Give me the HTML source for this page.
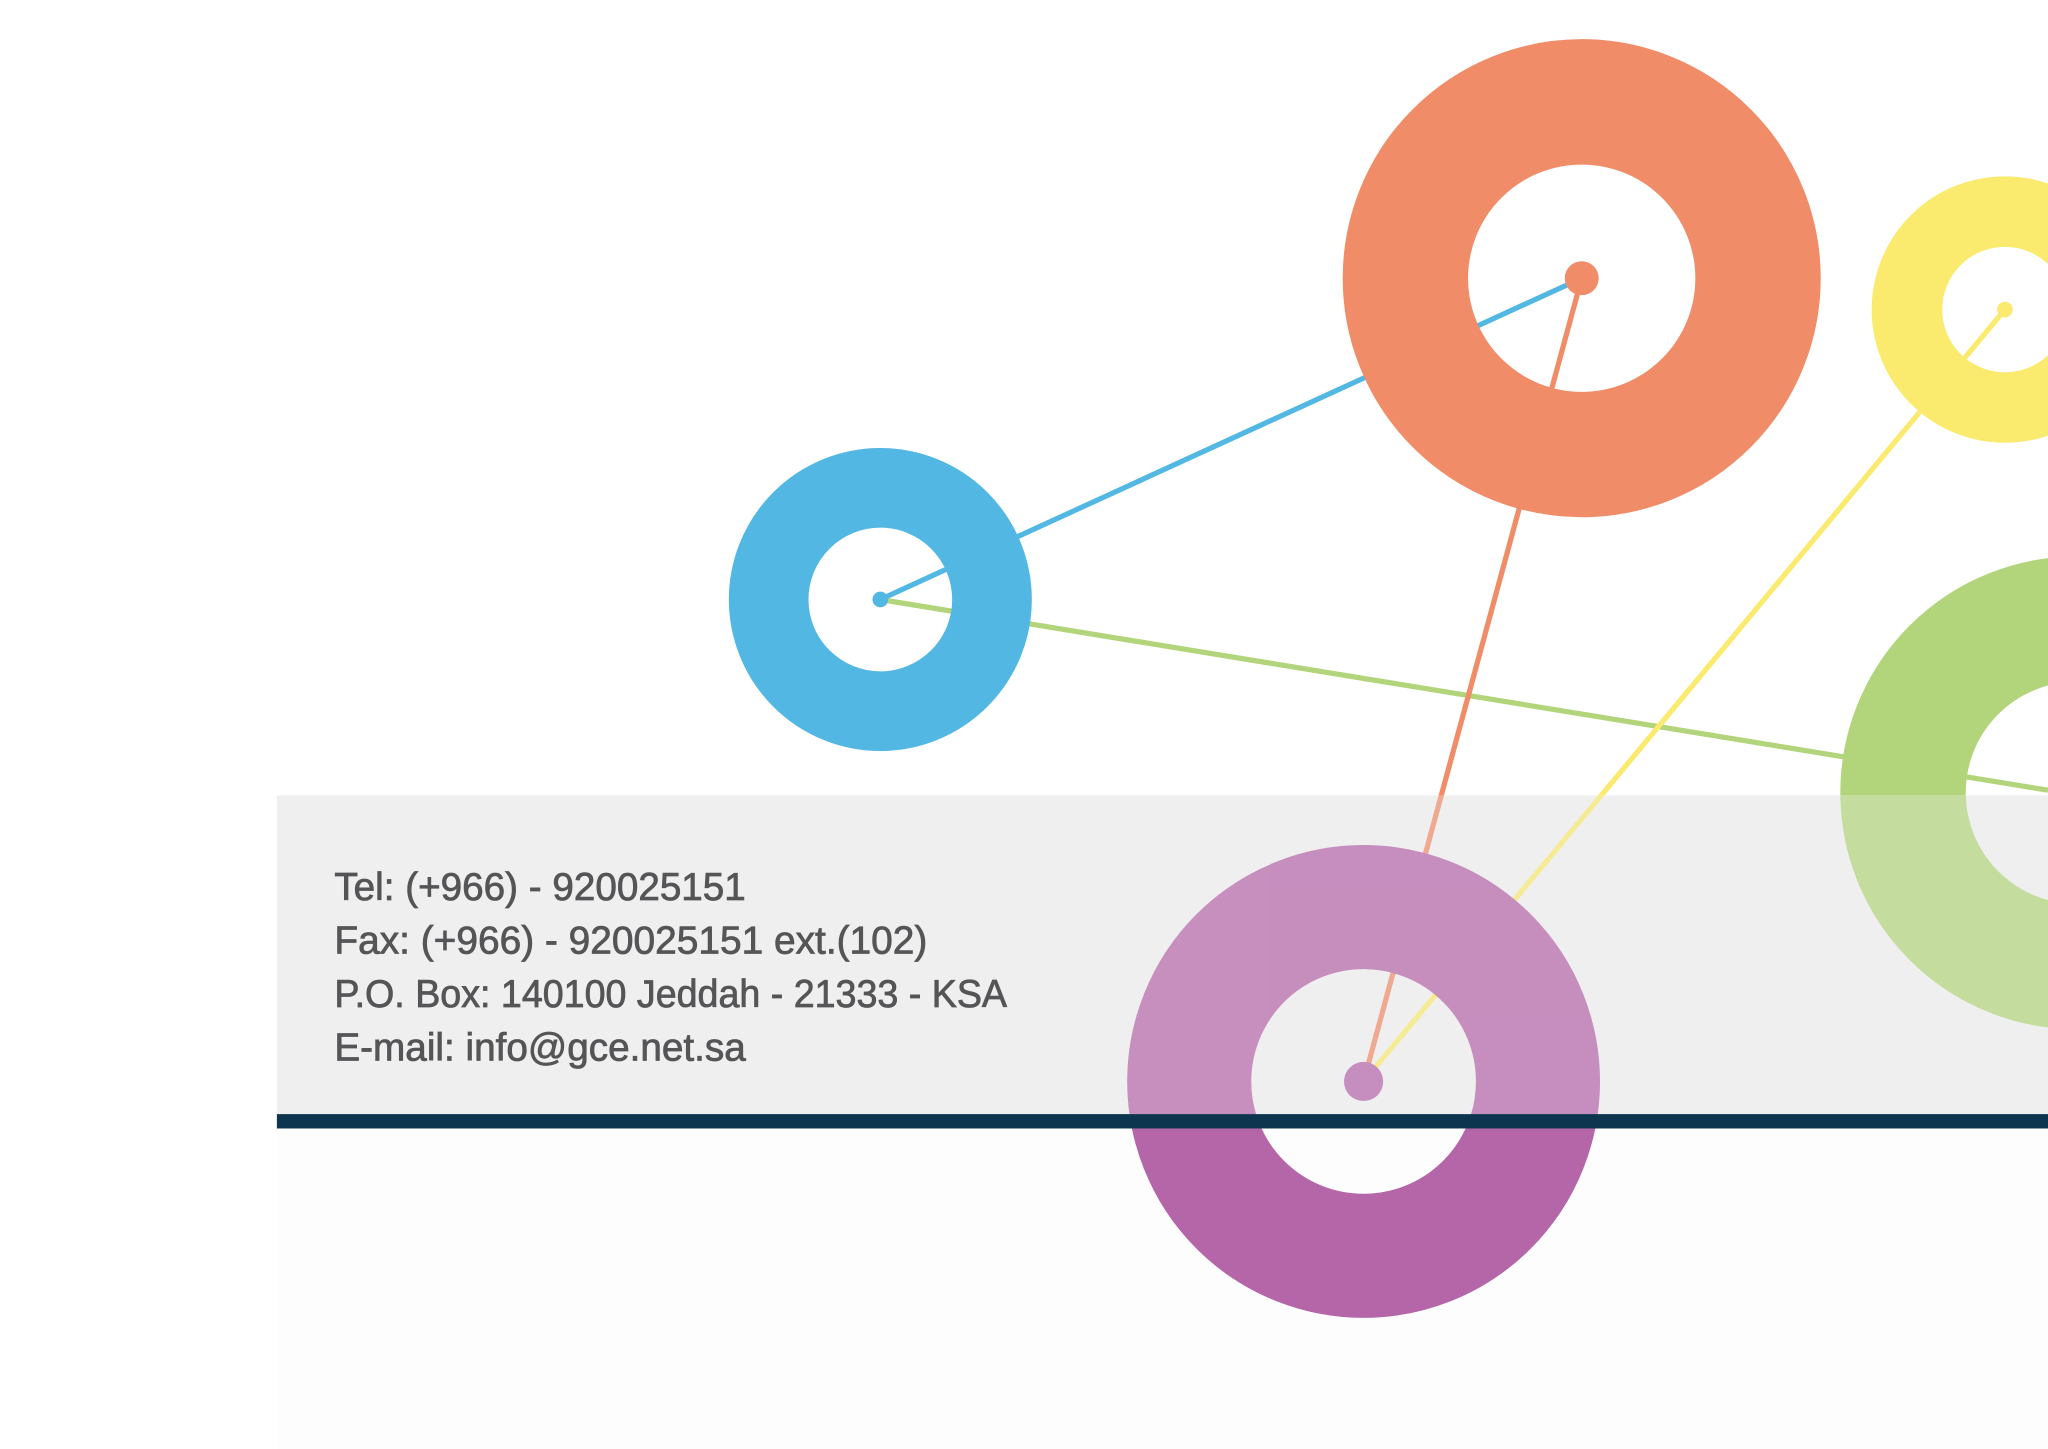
<!DOCTYPE html>
<html><head><meta charset="utf-8"><style>
html,body{margin:0;padding:0;background:#fff;}
svg{display:block;width:2048px;height:1449px;}
</style></head><body>
<svg viewBox="0 0 1568 1109.4" preserveAspectRatio="none" xmlns="http://www.w3.org/2000/svg">
<defs>
<clipPath id="inband"><rect x="212" y="609" width="1356" height="244"/></clipPath>
<clipPath id="outband"><path d="M0 0H1568V609H212V853H1568V1110H0Z"/></clipPath>
<g id="art">
<line x1="674" y1="459" x2="1211" y2="213" stroke="#52b8e3" stroke-width="4"/>
<line x1="674" y1="459" x2="1568" y2="605" stroke="#b2d47a" stroke-width="4"/>
<line x1="1211" y1="213" x2="1044" y2="828" stroke="#f08c67" stroke-width="4"/>
<line x1="1535" y1="237" x2="1044" y2="828" stroke="#faea6e" stroke-width="4"/>
<circle cx="674" cy="459" r="85.5" fill="none" stroke="#52b8e3" stroke-width="61"/>
<circle cx="1211" cy="213" r="135" fill="none" stroke="#f08c67" stroke-width="96"/>
<circle cx="1535" cy="237" r="75" fill="none" stroke="#faea6e" stroke-width="54"/>
<circle cx="1590" cy="607" r="133" fill="none" stroke="#b2d47a" stroke-width="96"/>
<circle cx="1044" cy="828" r="133.5" fill="none" stroke="#b566a8" stroke-width="95"/>
<circle cx="674" cy="459" r="6" fill="#52b8e3"/>
<circle cx="1211" cy="213" r="13" fill="#f08c67"/>
<circle cx="1535" cy="237" r="6" fill="#faea6e"/>
<circle cx="1044" cy="828" r="15" fill="#b566a8"/>
</g>
</defs>
<rect x="212" y="864" width="1356" height="246" fill="#fdfdfd"/>
<g clip-path="url(#outband)"><use href="#art"/></g>
<rect x="212" y="609" width="1356" height="244" fill="#efeff0"/>
<g clip-path="url(#inband)" opacity="0.7"><use href="#art"/></g>
<rect x="212" y="853" width="1356" height="11" fill="#0d3550"/>
<g font-family="Liberation Sans, sans-serif" font-size="30" fill="#555557" stroke="#555557" stroke-width="0.6">
<text x="256" y="689" textLength="315" lengthAdjust="spacingAndGlyphs">Tel: (+966) - 920025151</text>
<text x="256" y="730" textLength="454" lengthAdjust="spacingAndGlyphs">Fax: (+966) - 920025151  ext.(102)</text>
<text x="256" y="771" textLength="515" lengthAdjust="spacingAndGlyphs">P.O. Box: 140100 Jeddah - 21333 - KSA</text>
<text x="256" y="812" textLength="315" lengthAdjust="spacingAndGlyphs">E-mail: info@gce.net.sa</text>
</g>
</svg>
</body></html>
